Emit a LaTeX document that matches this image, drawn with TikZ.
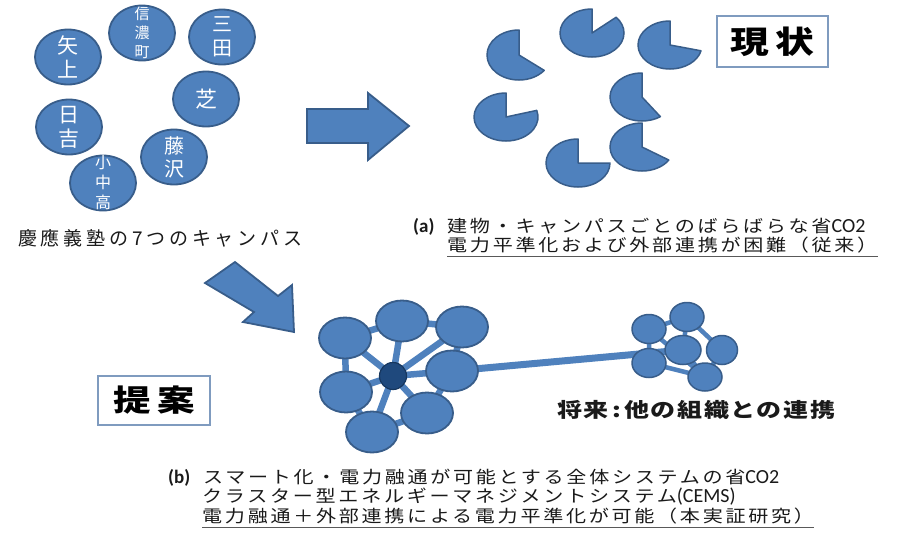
\documentclass[tikz,border=0pt]{standalone}
\usepackage{fontspec}
\setmainfont{Noto Sans CJK JP}
\newfontfamily\jp{Noto Sans CJK JP}
\newfontfamily\jpsp[FakeStretch=1.18,LetterSpace=16]{Noto Sans CJK JP}
\newfontfamily\jpcap[LetterSpace=20]{Noto Sans CJK JP}
\newfontfamily\jpbig[FakeStretch=1.25,LetterSpace=8]{Noto Sans CJK JP}
\newfontfamily\jpttl[FakeStretch=1.25,LetterSpace=20]{Noto Sans CJK JP}
\newfontfamily\lat{Carlito}
\usetikzlibrary{shapes.geometric,backgrounds}
\definecolor{bfill}{HTML}{4F81BD}
\definecolor{bline}{HTML}{385D8A}
\definecolor{hubc}{HTML}{1F497D}
\definecolor{hubl}{HTML}{17375E}
\definecolor{boxc}{HTML}{7F9BBF}
\definecolor{txt}{HTML}{1A1A1A}
\definecolor{ulc}{HTML}{595959}
\begin{document}
\begin{tikzpicture}[x=1pt,y=-1pt,
  campus/.style={ellipse,draw=bline,fill=bfill,line width=1.8pt,minimum width=66pt,minimum height=55pt,inner sep=0pt},
  ctext/.style={text=white,align=center,inner sep=0pt},
  clus/.style={ellipse,draw=bline,fill=bfill,line width=1.8pt,minimum width=52pt,minimum height=41pt,inner sep=0pt},
  sclus/.style={ellipse,draw=bline,fill=bfill,line width=1.5pt,minimum width=34pt,minimum height=29pt,inner sep=0pt},
  link/.style={draw=bfill,line width=6.5pt},
  slink/.style={draw=bfill,line width=4.5pt},
  pac/.style={fill=bfill,draw=bline,line width=1.5pt,line join=round},
  bigarrow/.style={fill=bfill,draw=bline,line width=1.8pt,line join=miter},
  titlebox/.style={draw=boxc,line width=1.2pt,fill=white,inner sep=0pt},
  txtnode/.style={inner sep=0pt,anchor=west,text=txt,text height=12pt,text depth=3pt},
  uline/.style={draw=ulc,line width=0.9pt},
]
\useasboundingbox (0,0) rectangle (900,536);

% ---- campuses
\node[campus] (yagami) at (68,57) {};
\node[ctext,font=\jp\fontsize{21}{24}\selectfont] (yagamiT) at (yagami) {矢\\上};
\node[campus] (shinano) at (142,33) {};
\node[ctext,font=\jp\fontsize{15}{19}\selectfont] (shinanoT) at (shinano) {信\\濃\\町};
\node[campus] (mita) at (222,37) {};
\node[ctext,font=\jp\fontsize{20}{24}\selectfont] (mitaT) at (mita) {三\\田};
\node[campus] (shiba) at (206,99) {};
\node[ctext,font=\jp\fontsize{22}{24}\selectfont] (shibaT) at (shiba) {芝};
\node[campus] (hiyoshi) at (69,127) {};
\node[ctext,font=\jp\fontsize{21}{24}\selectfont] (hiyoshiT) at (hiyoshi) {日\\吉};
\node[campus] (fujisawa) at (174,157) {};
\node[ctext,font=\jp\fontsize{20}{23}\selectfont] (fujisawaT) at (fujisawa) {藤\\沢};
\node[campus] (shonaka) at (103,183) {};
\node[ctext,font=\jp\fontsize{16}{20}\selectfont] (shonakaT) at (shonaka) {小\\中\\高};

\node[txtnode,font=\jpcap\fontsize{19}{22}\selectfont] (cap) at (18,241) {慶應義塾の7つのキャンパス};

% ---- arrows
\filldraw[bigarrow] (307,109) -- (368,109) -- (368,93) -- (409,126) -- (368,160) -- (368,143) -- (307,143) -- cycle;
\filldraw[bigarrow] (235,262) -- (278,296) -- (292,285) -- (294,332) -- (243,322) -- (254,312) -- (205,283) -- cycle;

% ---- pac-men (current state)
\filldraw[pac] (592,33) -- ++(-90:32 and 24) arc[start angle=-90,end angle=-401,x radius=32,y radius=24] -- cycle;
\filldraw[pac] (670,45) -- ++(-90:32 and 24) arc[start angle=-90,end angle=-346,x radius=32,y radius=24] -- cycle;
\filldraw[pac] (519,55) -- ++(-90:32 and 25) arc[start angle=-90,end angle=-322,x radius=32,y radius=25] -- cycle;
\filldraw[pac] (642,97) -- ++(-90:32 and 24) arc[start angle=-90,end angle=-305,x radius=32,y radius=24] -- cycle;
\filldraw[pac] (506,117) -- ++(-90:32 and 24) arc[start angle=-90,end angle=-376,x radius=32,y radius=24] -- cycle;
\filldraw[pac] (642,147) -- ++(-90:32 and 24) arc[start angle=-90,end angle=-327,x radius=32,y radius=24] -- cycle;
\filldraw[pac] (578,163) -- ++(-90:32 and 24) arc[start angle=-90,end angle=-360,x radius=32,y radius=24] -- cycle;

\node[titlebox,minimum width=111pt,minimum height=51pt] (genjo) at (772.5,41.5) {\jpttl\bfseries\fontsize{31}{32}\selectfont 現状};

% ---- (a) caption
\node[txtnode,font=\lat\bfseries\fontsize{19}{22}\selectfont] (alab) at (413,228) {(a)};
\node[txtnode,font=\fontsize{17}{22}\selectfont] (a1) at (447,228) {{\jpsp 建物・キャンパスごとのばらばらな省}{\lat\fontsize{20}{22}\selectfont CO2}};
\node[txtnode,font=\jpsp\fontsize{17}{22}\selectfont] (a2) at (447,247) {電力平準化および外部連携が困難（従来）};
\draw[uline] ([yshift=-2pt]a2.south west) -- ([yshift=-2pt]a2.south east);

% ---- proposed cluster
\node[clus] (A) at (345,338) {};
\node[clus] (B) at (402,321) {};
\node[clus] (C) at (462,327) {};
\node[clus] (D) at (452,371) {};
\node[clus] (E) at (346,392) {};
\node[clus] (F) at (427,413) {};
\node[clus] (G) at (372,432) {};
\node[circle,draw=hubl,fill=hubc,line width=1.2pt,minimum size=27pt,inner sep=0pt] (hub) at (393,376) {};

\node[sclus] (s1) at (687,317) {};
\node[sclus] (s2) at (649,329) {};
\node[sclus,minimum width=36pt] (s3) at (683,350) {};
\node[sclus,minimum width=31pt] (s4) at (722,350) {};
\node[sclus] (s5) at (649,363) {};
\node[sclus,minimum height=28pt] (s6) at (705,377) {};

\begin{scope}[on background layer]
  \fill[white] (0,0) rectangle (900,536);
  \foreach \n in {A,B,C,D,E,F,G} \draw[link] (hub.center) -- (\n.center);
  \draw[link] (A.center) -- (B.center) -- (C.center) -- (D.center) -- (F.center) -- (G.center) -- (E.center) -- (A.center);
  \draw[link,line width=7pt] (D.center) -- (s3.center);
  \draw[slink] (s2.center) -- (s1.center) -- (s4.center) -- (s6.center) -- (s5.center) -- (s2.center);
  \draw[slink] (s3.center) -- (s1.center);
  \draw[slink] (s3.center) -- (s6.center);
  \draw[slink] (s2.center) -- (s6.center);
\end{scope}

\node[txtnode,font=\jpbig\bfseries\fontsize{20}{22}\selectfont] (future) at (557,413) {将来\,:\,他の組織との連携};

\node[titlebox,minimum width=112pt,minimum height=49pt] (teian) at (154,400.5) {\jpttl\bfseries\fontsize{30}{32}\selectfont 提案};

% ---- (b) caption
\node[txtnode,font=\lat\bfseries\fontsize{19}{22}\selectfont] (blab) at (168,479) {(b)};
\node[txtnode,font=\fontsize{17}{22}\selectfont] (b1) at (203,479) {{\jpsp スマート化・電力融通が可能とする全体システムの省}{\lat\fontsize{20}{22}\selectfont CO2}};
\node[txtnode,font=\fontsize{17}{22}\selectfont] (b2) at (202,498) {{\jpsp クラスター型エネルギーマネジメントシステム}{\lat\fontsize{20}{22}\selectfont (CEMS)}};
\node[txtnode,font=\jpsp\fontsize{17}{22}\selectfont] (b3) at (202,518) {電力融通＋外部連携による電力平準化が可能（本実証研究）};
\draw[uline] ([yshift=-2pt]b3.south west) -- ([yshift=-2pt]b3.south east);
\end{tikzpicture}
\end{document}
